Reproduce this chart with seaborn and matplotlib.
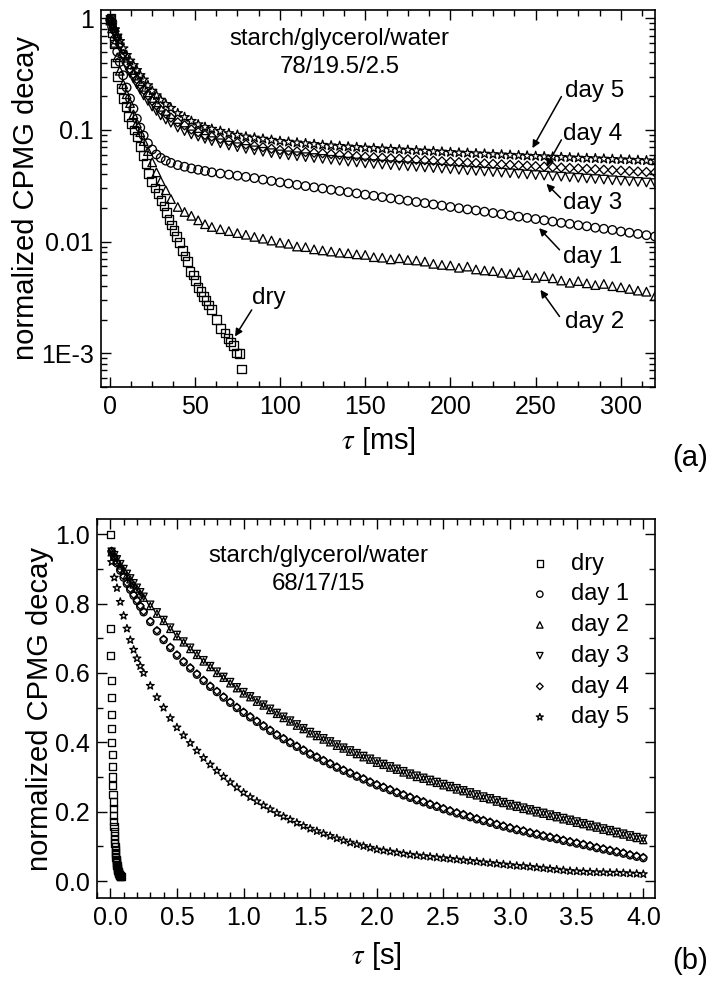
import numpy as np
import pandas as pd
import matplotlib
matplotlib.use("Agg")
import matplotlib.pyplot as plt
import seaborn as sns
from matplotlib.ticker import MultipleLocator, FixedLocator, FixedFormatter, LogLocator, NullFormatter, FormatStrFormatter

# ---------------- data: panel (a)  starch/glycerol/water 78/19.5/2.5 ----------------
tau_a = [0.5, 1.5, 3, 4.5, 6, 8, 10, 12, 14, 16, 18, 20, 22.5, 25, 27.5, 30, 33, 36, 40, 44, 48, 52, 56, 60,
         65, 70, 75, 80, 85, 90, 95, 100,
         105, 110, 115, 120, 125, 130, 135, 140, 145, 150,
         155, 160, 165, 170, 175, 180, 185, 190, 195, 200,
         205, 210, 215, 220, 225, 230, 235, 240, 245, 250,
         255, 260, 265, 270, 275, 280, 285, 290, 295, 300,
         305, 310, 315, 320]

day5_a = [0.97, 0.90, 0.794, 0.70, 0.624, 0.537, 0.468, 0.417, 0.380, 0.343, 0.309, 0.282, 0.251, 0.224,
          0.204, 0.186, 0.170, 0.157, 0.141, 0.130, 0.120, 0.112, 0.106, 0.102,
          0.0977, 0.0933, 0.0902, 0.0871, 0.0851, 0.0832, 0.0813, 0.0794,
          0.0782, 0.0769, 0.0757, 0.0745, 0.0733, 0.0724, 0.0716, 0.0708, 0.0700, 0.0692,
          0.0686, 0.0679, 0.0673, 0.0667, 0.0661, 0.0655, 0.0649, 0.0643, 0.0637, 0.0631,
          0.0625, 0.0621, 0.0615, 0.0611, 0.0605, 0.0601, 0.0596, 0.0592, 0.0586, 0.0582,
          0.0578, 0.0574, 0.0570, 0.0566, 0.0562, 0.0558, 0.0555, 0.0551, 0.0547, 0.0543,
          0.0540, 0.0536, 0.0532, 0.0528]

day4_a = [0.966, 0.891, 0.767, 0.668, 0.582, 0.479, 0.398, 0.351, 0.316, 0.285, 0.254, 0.229, 0.204, 0.182,
          0.166, 0.151, 0.140, 0.129, 0.117, 0.110, 0.101, 0.0955, 0.0902, 0.0871,
          0.0832, 0.0794, 0.0767, 0.0741, 0.0719, 0.0700, 0.0679, 0.0661,
          0.0652, 0.0643, 0.0634, 0.0625, 0.0617, 0.0608, 0.0600, 0.0592, 0.0583, 0.0575,
          0.0569, 0.0564, 0.0557, 0.0552, 0.0546, 0.0541, 0.0535, 0.0530, 0.0524, 0.0519,
          0.0514, 0.0509, 0.0505, 0.0500, 0.0496, 0.0491, 0.0487, 0.0482, 0.0478, 0.0473,
          0.0469, 0.0465, 0.0460, 0.0456, 0.0452, 0.0448, 0.0444, 0.0440, 0.0436, 0.0432,
          0.0428, 0.0424, 0.0420, 0.0416]

day3_a = [0.966, 0.881, 0.750, 0.646, 0.550, 0.452, 0.372, 0.324, 0.288, 0.257, 0.229, 0.204, 0.182, 0.162,
          0.148, 0.135, 0.124, 0.116, 0.105, 0.0977, 0.0912, 0.0871, 0.0832, 0.0794,
          0.0759, 0.0724, 0.0700, 0.0676, 0.0656, 0.0637, 0.0619, 0.0603,
          0.0592, 0.0581, 0.0570, 0.0560, 0.0550, 0.0540, 0.0530, 0.0520, 0.0511, 0.0501,
          0.0495, 0.0489, 0.0483, 0.0477, 0.0472, 0.0466, 0.0461, 0.0455, 0.0450, 0.0444,
          0.0439, 0.0434, 0.0429, 0.0424, 0.0419, 0.0414, 0.0409, 0.0404, 0.0399, 0.0394,
          0.0390, 0.0385, 0.0381, 0.0376, 0.0372, 0.0367, 0.0363, 0.0359, 0.0354, 0.0350,
          0.0346, 0.0342, 0.0338, 0.0334]

day1_a = [0.955, 0.841, 0.646, 0.501, 0.407, 0.309, 0.240, 0.191, 0.155, 0.126, 0.105, 0.0891, 0.0759, 0.0668,
          0.0603, 0.0562, 0.0531, 0.0507, 0.0484, 0.0468, 0.0452, 0.0440, 0.0429, 0.0417,
          0.0407, 0.0398, 0.0389, 0.0380, 0.0370, 0.0359, 0.0349, 0.0339,
          0.0331, 0.0322, 0.0314, 0.0306, 0.0299, 0.0291, 0.0284, 0.0277, 0.0270, 0.0263,
          0.0257, 0.0250, 0.0244, 0.0238, 0.0232, 0.0226, 0.0221, 0.0215, 0.0210, 0.0204,
          0.0199, 0.0194, 0.0190, 0.0185, 0.0180, 0.0176, 0.0171, 0.0167, 0.0163, 0.0159,
          0.0155, 0.0151, 0.0147, 0.0144, 0.0140, 0.0137, 0.0133, 0.0130, 0.0127, 0.0123,
          0.0120, 0.0117, 0.0114, 0.0111]

day2_a = [0.955, 0.813, 0.603, 0.447, 0.339, 0.257, 0.209, 0.174, 0.138, 0.115, 0.0955, 0.0794, 0.0646, 0.0513,
          0.0417, 0.0347, 0.0288, 0.0240, 0.0204, 0.0184, 0.0170, 0.0155, 0.0143, 0.0135,
          0.0129, 0.0124, 0.0119, 0.0115, 0.0110, 0.0106, 0.0102, 0.00977,
          0.00955, 0.00902, 0.00891, 0.00851, 0.00832, 0.00813, 0.00794, 0.00785, 0.00767, 0.00759,
          0.00724, 0.00716, 0.00692, 0.00708, 0.00684, 0.00676, 0.00661, 0.00631, 0.00617, 0.00610,
          0.00582, 0.00596, 0.00562, 0.00550, 0.00543, 0.00525, 0.00513, 0.00531, 0.00501, 0.00473,
          0.00490, 0.00468, 0.00447, 0.00427, 0.00442, 0.00422, 0.00407, 0.00417, 0.00398, 0.00389,
          0.00376, 0.00363, 0.00355, 0.00324]

tau_dry_a = [0.8, 1.8, 2.5, 3.2, 4.8, 6.6, 8.1, 9.7, 11.2, 12.9, 14.3, 16.0, 17.9, 19.5, 21.3, 22.9,
             24.7, 26.6, 28.5, 30.2, 32.0, 33.5, 34.9, 36.3, 37.9, 39.4, 40.9, 42.7, 44.3, 45.8,
             47.2, 49.1, 50.5, 52.0, 53.6, 55.0, 56.6, 58.2, 59.9, 62.8, 65.2, 67.7, 69.6, 71.0,
             72.6, 74.6, 76.1, 77.5]
dry_a = [1.0, 0.741, 0.589, 0.398, 0.302, 0.234, 0.191, 0.162, 0.132, 0.114, 0.100, 0.0871, 0.0708,
         0.0589, 0.0501, 0.0407, 0.0347, 0.0302, 0.0269, 0.0234, 0.0209, 0.0182, 0.0158, 0.0141,
         0.0125, 0.0111, 0.00977, 0.00832, 0.00741, 0.00661, 0.00537, 0.00501, 0.00447, 0.00389,
         0.00355, 0.00320, 0.00295, 0.00270, 0.00245, 0.00200, 0.00166, 0.00151, 0.00135, 0.00126,
         0.00117, 0.00100, 0.00099, 0.00072]

# ---------------- data: panel (b)  starch/glycerol/water 68/17/15 ----------------
tau_b = [0.01, 0.03, 0.05, 0.075, 0.1, 0.125, 0.15, 0.175, 0.2, 0.225, 0.25,
         0.3, 0.35, 0.4, 0.45, 0.5, 0.55, 0.6, 0.65, 0.7, 0.75, 0.8, 0.85, 0.9, 0.95, 1.0,
         1.05, 1.1, 1.15, 1.2, 1.25, 1.3, 1.35, 1.4, 1.45, 1.5,
         1.55, 1.6, 1.65, 1.7, 1.75, 1.8, 1.85, 1.9, 1.95, 2.0,
         2.05, 2.1, 2.15, 2.2, 2.25, 2.3, 2.35, 2.4, 2.45, 2.5,
         2.55, 2.6, 2.65, 2.7, 2.75, 2.8, 2.85, 2.9, 2.95, 3.0,
         3.05, 3.1, 3.15, 3.2, 3.25, 3.3, 3.35, 3.4, 3.45, 3.5,
         3.55, 3.6, 3.65, 3.7, 3.75, 3.8, 3.85, 3.9, 3.95, 4.0]

day1_b = [0.950, 0.933, 0.916, 0.895, 0.875, 0.857, 0.840, 0.823, 0.807, 0.791, 0.775,
          0.747, 0.720, 0.695, 0.672, 0.650, 0.631, 0.613, 0.595, 0.577, 0.560, 0.545, 0.529, 0.514, 0.499, 0.485,
          0.472, 0.459, 0.446, 0.433, 0.420, 0.409, 0.398, 0.387, 0.376, 0.365,
          0.356, 0.346, 0.337, 0.327, 0.318, 0.310, 0.301, 0.293, 0.284, 0.276,
          0.269, 0.262, 0.254, 0.247, 0.240, 0.233, 0.227, 0.220, 0.214, 0.207,
          0.201, 0.195, 0.190, 0.184, 0.178, 0.173, 0.168, 0.162, 0.157, 0.152,
          0.147, 0.143, 0.138, 0.134, 0.129, 0.125, 0.121, 0.116, 0.112, 0.108,
          0.104, 0.100, 0.095, 0.091, 0.087, 0.083, 0.079, 0.074, 0.070, 0.066]

day2_b = [0.948, 0.936, 0.925, 0.910, 0.897, 0.882, 0.870, 0.855, 0.843, 0.829, 0.817,
          0.793, 0.771, 0.750, 0.727, 0.706, 0.688, 0.669, 0.652, 0.633, 0.617, 0.600, 0.586, 0.570, 0.556, 0.541,
          0.530, 0.517, 0.506, 0.493, 0.482, 0.470, 0.460, 0.448, 0.438, 0.426,
          0.418, 0.408, 0.400, 0.390, 0.382, 0.373, 0.366, 0.357, 0.350, 0.341,
          0.335, 0.327, 0.321, 0.313, 0.307, 0.300, 0.295, 0.288, 0.283, 0.276,
          0.271, 0.264, 0.259, 0.252, 0.247, 0.240, 0.236, 0.229, 0.225, 0.218,
          0.214, 0.208, 0.204, 0.198, 0.194, 0.188, 0.184, 0.178, 0.174, 0.168,
          0.164, 0.158, 0.154, 0.148, 0.144, 0.138, 0.134, 0.128, 0.124, 0.118]

day3_b = [0.950, 0.940, 0.928, 0.914, 0.900, 0.886, 0.873, 0.859, 0.846, 0.833, 0.820,
          0.797, 0.775, 0.753, 0.731, 0.710, 0.691, 0.673, 0.655, 0.637, 0.620, 0.604, 0.589, 0.574, 0.559, 0.545,
          0.533, 0.521, 0.509, 0.497, 0.485, 0.474, 0.463, 0.452, 0.441, 0.430,
          0.421, 0.412, 0.403, 0.394, 0.385, 0.377, 0.369, 0.361, 0.353, 0.345,
          0.338, 0.331, 0.324, 0.317, 0.310, 0.304, 0.298, 0.292, 0.286, 0.280,
          0.274, 0.268, 0.262, 0.256, 0.250, 0.244, 0.239, 0.233, 0.228, 0.222,
          0.217, 0.212, 0.207, 0.202, 0.197, 0.192, 0.187, 0.182, 0.177, 0.172,
          0.167, 0.162, 0.157, 0.152, 0.147, 0.142, 0.137, 0.132, 0.127, 0.122]

day4_b = [0.952, 0.936, 0.919, 0.898, 0.879, 0.860, 0.843, 0.826, 0.810, 0.794, 0.778,
          0.750, 0.723, 0.698, 0.675, 0.653, 0.634, 0.616, 0.598, 0.580, 0.563, 0.548, 0.532, 0.517, 0.502, 0.488,
          0.475, 0.462, 0.449, 0.436, 0.423, 0.412, 0.401, 0.390, 0.379, 0.368,
          0.359, 0.349, 0.340, 0.330, 0.321, 0.313, 0.304, 0.296, 0.287, 0.279,
          0.272, 0.265, 0.257, 0.250, 0.243, 0.236, 0.230, 0.223, 0.217, 0.210,
          0.204, 0.198, 0.193, 0.187, 0.181, 0.176, 0.171, 0.165, 0.160, 0.155,
          0.150, 0.146, 0.141, 0.137, 0.132, 0.128, 0.124, 0.119, 0.115, 0.111,
          0.107, 0.103, 0.098, 0.094, 0.090, 0.086, 0.082, 0.077, 0.073, 0.069]

day5_b = [0.920, 0.875, 0.845, 0.805, 0.765, 0.728, 0.695, 0.667, 0.642, 0.620, 0.600,
          0.563, 0.530, 0.500, 0.470, 0.443, 0.420, 0.398, 0.376, 0.355, 0.336, 0.318, 0.301, 0.285, 0.270, 0.255,
          0.242, 0.230, 0.218, 0.207, 0.196, 0.186, 0.177, 0.168, 0.159, 0.151,
          0.144, 0.137, 0.130, 0.123, 0.117, 0.111, 0.106, 0.101, 0.096, 0.091,
          0.088, 0.085, 0.082, 0.079, 0.076, 0.074, 0.072, 0.070, 0.068, 0.066,
          0.064, 0.062, 0.060, 0.058, 0.056, 0.054, 0.052, 0.050, 0.048, 0.046,
          0.044, 0.043, 0.041, 0.039, 0.037, 0.035, 0.033, 0.031, 0.029, 0.028,
          0.027, 0.026, 0.025, 0.025, 0.024, 0.024, 0.023, 0.022, 0.021, 0.020]

tau_dry_b = [0.0008, 0.0024, 0.0040, 0.0056, 0.0072, 0.0088, 0.0104, 0.0120, 0.0136, 0.0152,
             0.0168, 0.0184, 0.0200, 0.0216, 0.0232, 0.0248, 0.0264, 0.0280, 0.0296, 0.0312,
             0.0328, 0.0344, 0.0360, 0.0376, 0.0392, 0.0408, 0.0424, 0.0440, 0.0456, 0.0472,
             0.0488, 0.0504, 0.0520, 0.0536, 0.0552, 0.0568, 0.0584, 0.0600, 0.0620, 0.0640,
             0.0660, 0.0680, 0.0700, 0.0720, 0.0740, 0.0760, 0.0780, 0.0800]
dry_b = [1.0, 0.727, 0.65, 0.578, 0.53, 0.48, 0.44, 0.40, 0.365, 0.33, 0.30, 0.275, 0.25, 0.228, 0.208,
         0.19, 0.172, 0.158, 0.144, 0.131, 0.12, 0.109, 0.10, 0.091, 0.083, 0.076, 0.069, 0.063, 0.058,
         0.053, 0.048, 0.044, 0.040, 0.037, 0.034, 0.031, 0.028, 0.026, 0.024, 0.022, 0.020, 0.019,
         0.017, 0.016, 0.015, 0.014, 0.013, 0.012]

series_labels = ["dry", "day 1", "day 2", "day 3", "day 4", "day 5"]
y_ticks_a = [1e-3, 1e-2, 1e-1, 1]
y_ticklabels_a = ["1E-3", "0.01", "0.1", "1"]

# ---------------- style ----------------
sns.set_style("ticks")
plt.rcParams["font.family"] = ["Liberation Sans", "DejaVu Sans"]
plt.rcParams["mathtext.fontset"] = "stix"
plt.rcParams["axes.edgecolor"] = "black"
plt.rcParams["axes.linewidth"] = 1.2
plt.rcParams["text.color"] = "black"
plt.rcParams["axes.labelcolor"] = "black"
plt.rcParams["xtick.color"] = "black"
plt.rcParams["ytick.color"] = "black"
plt.rcParams["legend.labelcolor"] = "black"

markers = {"dry": "s", "day 1": "o", "day 2": "^", "day 3": "v", "day 4": "D", "day 5": "*"}
size_scale = {"dry": 1.0, "day 1": 1.0, "day 2": 1.0, "day 3": 1.0, "day 4": 0.55, "day 5": 1.3}

fig = plt.figure(figsize=(7.12, 9.81), dpi=100)
ax1 = fig.add_axes([0.1419, 0.6058, 0.778, 0.3845])
ax2 = fig.add_axes([0.1362, 0.0849, 0.7842, 0.3857])


def draw(ax, x, y, name, base_s, label=None):
    sns.scatterplot(x=x, y=y, ax=ax, marker=markers[name], s=base_s * size_scale[name],
                    color="black", facecolor="none", edgecolor="black", linewidth=0.95,
                    label=label, legend=False, zorder=3)


# ---- panel (a)
sa = 38
draw(ax1, tau_a, day5_a, "day 5", sa)
draw(ax1, tau_a, day4_a, "day 4", sa)
draw(ax1, tau_a, day3_a, "day 3", sa)
draw(ax1, tau_a, day1_a, "day 1", sa)
draw(ax1, tau_a, day2_a, "day 2", sa)
draw(ax1, tau_dry_a, dry_a, "dry", sa)

ax1.set_yscale("log")
ax1.set_xlim(-5, 320)
ax1.set_ylim(5.0e-4, 1.2)
ax1.yaxis.set_major_locator(FixedLocator(y_ticks_a))
ax1.yaxis.set_major_formatter(FixedFormatter(y_ticklabels_a))
ax1.yaxis.set_minor_locator(LogLocator(base=10, subs=np.arange(2, 10)))
ax1.yaxis.set_minor_formatter(NullFormatter())
ax1.xaxis.set_major_locator(MultipleLocator(50))
ax1.xaxis.set_minor_locator(MultipleLocator(12.5))
ax1.set_xlabel(r"$\tau$ [ms]", fontsize=21, labelpad=4)
ax1.set_ylabel("normalized CPMG decay", fontsize=21, labelpad=1)

ax1.text(0.431, 0.885, "starch/glycerol/water\n78/19.5/2.5", transform=ax1.transAxes,
         ha="center", va="center", fontsize=17.3, linespacing=1.35)

# annotations: label text position, arrow tail, arrow tip (data coords)
ann_a = [
    ("dry", (93.5, 0.00313), (83.4, 0.00244), (73.6, 0.00141)),
    ("day 5", (284.6, 0.225), (265.1, 0.199), (248.1, 0.0687)),
    ("day 4", (283.6, 0.0923), (265.1, 0.0815), (256.3, 0.047)),
    ("day 3", (283.3, 0.022), (264.6, 0.0246), (256.3, 0.0329)),
    ("day 1", (283.6, 0.00734), (264.0, 0.00843), (252.0, 0.0132)),
    ("day 2", (284.6, 0.00192), (264.0, 0.00213), (252.8, 0.00369)),
]
for txt, tpos, tail, tip in ann_a:
    ax1.text(tpos[0], tpos[1], txt, ha="center", va="center", fontsize=17.5, zorder=5)
    ax1.annotate("", xy=tip, xytext=tail,
                 arrowprops=dict(arrowstyle="-|>", color="black", lw=1.1,
                                 mutation_scale=11, shrinkA=0, shrinkB=0), zorder=5)

# ---- panel (b)
sb = 26
draw(ax2, tau_dry_b, dry_b, "dry", sb, label="dry")
draw(ax2, tau_b, day1_b, "day 1", sb, label="day 1")
draw(ax2, tau_b, day2_b, "day 2", sb, label="day 2")
draw(ax2, tau_b, day3_b, "day 3", sb, label="day 3")
draw(ax2, tau_b, day4_b, "day 4", sb, label="day 4")
draw(ax2, tau_b, day5_b, "day 5", sb, label="day 5")

ax2.set_xlim(-0.10, 4.09)
ax2.set_ylim(-0.048, 1.043)
ax2.xaxis.set_major_locator(MultipleLocator(0.5))
ax2.xaxis.set_minor_locator(MultipleLocator(0.1))
ax2.xaxis.set_major_formatter(FormatStrFormatter("%.1f"))
ax2.yaxis.set_major_locator(MultipleLocator(0.2))
ax2.yaxis.set_minor_locator(MultipleLocator(0.1))
ax2.yaxis.set_major_formatter(FormatStrFormatter("%.1f"))
ax2.set_xlabel(r"$\tau$ [s]", fontsize=21, labelpad=7)
ax2.set_ylabel("normalized CPMG decay", fontsize=21, labelpad=1)

ax2.text(0.396, 0.866, "starch/glycerol/water\n68/17/15", transform=ax2.transAxes,
         ha="center", va="center", fontsize=17.3, linespacing=1.35)

leg = ax2.legend(loc="upper left", bbox_to_anchor=(0.772, 0.912), frameon=False,
                 fontsize=17, handlelength=1.0, handletextpad=0.8, labelspacing=0.37,
                 borderpad=0, borderaxespad=0, markerscale=0.9)

for ax in (ax1, ax2):
    ax.tick_params(which="both", direction="in", top=True, right=True, width=1.0,
                   colors="black", labelsize=18)
    ax.tick_params(which="major", length=7)
    ax.tick_params(which="minor", length=4)
    ax.tick_params(axis="x", which="major", pad=6)
    ax.tick_params(axis="y", which="major", pad=5)
    for sp in ax.spines.values():
        sp.set_visible(True)
        sp.set_linewidth(1.2)
        sp.set_color("black")

fig.text(0.969, 0.533, "(a)", fontsize=21, ha="center", va="center")
fig.text(0.969, 0.0204, "(b)", fontsize=21, ha="center", va="center")

fig.savefig("out.png", dpi=100)
